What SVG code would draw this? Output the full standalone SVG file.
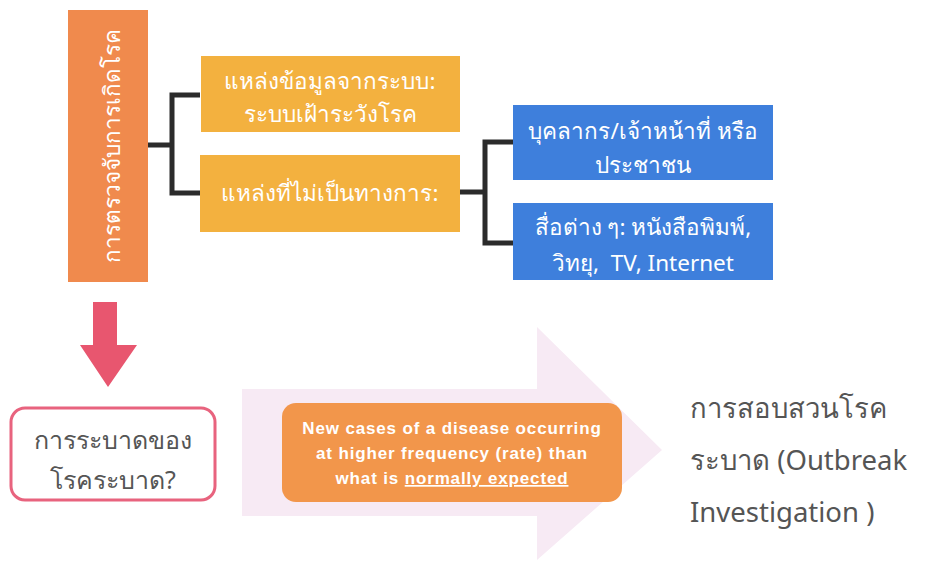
<svg xmlns="http://www.w3.org/2000/svg" width="926" height="562" viewBox="0 0 926 562">
<style>
.th{font-family:"Noto Sans","DejaVu Sans",Tahoma,sans-serif;}
.w{fill:#ffffff;font-size:22.5px;text-anchor:middle;}
.g{fill:#555555;}
.en{font-family:"Liberation Sans",Calibri,sans-serif;font-weight:bold;font-size:17px;letter-spacing:0.85px;fill:#ffffff;text-anchor:middle;}
.br{fill:none;stroke:#2b2b2b;stroke-width:5;}
</style>
<rect width="926" height="562" fill="#ffffff"/>
<g id="connectors">
<path class="br" d="M148,145 H172 M200,95 H172 V193 H200"/>
<path class="br" d="M460,192 H485 M513,142 H485 V243 H513"/>
</g>
<g id="detect">
<rect x="68" y="10" width="80" height="272" fill="#F08A4D"/>
<text class="th w" font-size="29" transform="translate(120,146) rotate(-90)">การตรวจจับการเกิดโรค</text>
</g>
<g id="official">
<rect x="201" y="56" width="259" height="76" fill="#F3B13F"/>
<text class="th w" x="330" y="89">แหล่งข้อมูลจากระบบ:</text>
<text class="th w" x="330" y="122">ระบบเฝ้าระวังโรค</text>
</g>
<g id="unofficial">
<rect x="200" y="155" width="260" height="77" fill="#F3B13F"/>
<text class="th w" x="330" y="201">แหล่งที่ไม่เป็นทางการ:</text>
</g>
<g id="people">
<rect x="513" y="105" width="260" height="75" fill="#3E7FDC"/>
<text class="th w" x="643" y="139">บุคลากร/เจ้าหน้าที่ หรือ</text>
<text class="th w" x="643" y="173">ประชาชน</text>
</g>
<g id="media">
<rect x="513" y="203" width="260" height="77" fill="#3E7FDC"/>
<text class="th w" x="643" y="235">สื่อต่าง ๆ: หนังสือพิมพ์,</text>
<text class="th w" x="643" y="271">วิทยุ,&#160; TV, Internet</text>
</g>
<g id="down-arrow">
<polygon points="93,302 117,302 117,345 137,345 108,387 80,345 93,345" fill="#E8566F"/>
</g>
<g id="question">
<rect x="11" y="408" width="204" height="92" rx="14" fill="#ffffff" stroke="#E8637E" stroke-width="3"/>
<text class="th g" x="113" y="449" font-size="25" text-anchor="middle">การระบาดของ</text>
<text class="th g" x="113" y="489" font-size="25" text-anchor="middle">โรคระบาด?</text>
</g>
<g id="big-arrow">
<polygon points="242,389 537,389 537,327 662,450 537,560 537,516 242,516" fill="#F7EAF4"/>
</g>
<g id="definition">
<rect x="282" y="403" width="340" height="99" rx="14" fill="#F2964B"/>
<text class="en" x="452" y="434">New cases of a disease occurring</text>
<text class="en" x="452" y="459">at higher frequency (rate) than</text>
<text class="en" x="452" y="484">what is <tspan text-decoration="underline">normally expected</tspan></text>
</g>
<g id="investigation">
<text class="th g" x="690" y="418" font-size="27.5">การสอบสวนโรค</text>
<text class="th g" x="690" y="470" font-size="27.5">ระบาด (Outbreak</text>
<text class="th g" x="690" y="522" font-size="27.5">Investigation )</text>
</g>
</svg>
